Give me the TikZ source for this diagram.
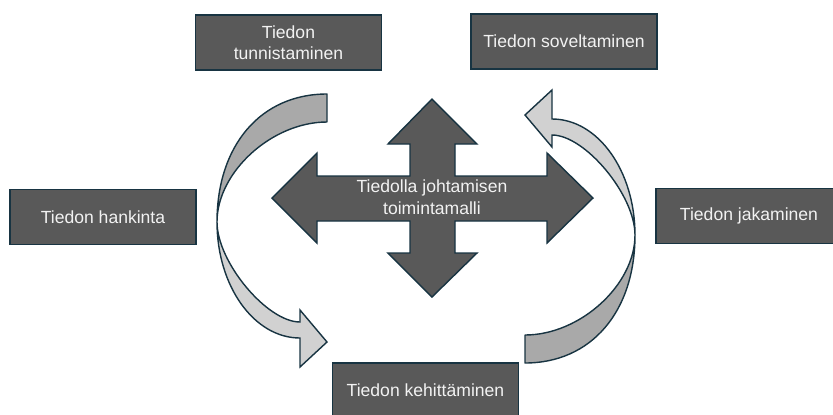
\documentclass[tikz,border=0pt]{standalone}
\usepackage{fontspec}
\setmainfont{Liberation Sans}
\definecolor{boxgray}{RGB}{89,89,89}
\definecolor{edgeblue}{RGB}{24,52,66}
\definecolor{txtwhite}{RGB}{242,242,242}
\definecolor{bandback}{RGB}{169,169,169}
\definecolor{bandfront}{RGB}{209,209,209}

\begin{document}
\begin{tikzpicture}[x=0.02cm, y=-0.02cm,
    infobox/.style={draw=edgeblue, fill=boxgray, line width=0.8pt, text=txtwhite,
      minimum width=3.72cm, minimum height=1.1cm, inner sep=0pt, align=center,
      font=\fontsize{10pt}{12pt}\selectfont},
    crossarrow/.style={draw=edgeblue, fill=boxgray, line width=0.8pt, line join=miter},
    backband/.style={draw=edgeblue, fill=bandback, line width=0.8pt, line join=round},
    frontband/.style={draw=edgeblue, fill=bandfront, line width=0.8pt, line join=miter}]
  \useasboundingbox (0,0) rectangle (833,414);
  \clip (0,0) rectangle (833,414);

  % the model in the middle
  \draw[crossarrow] (432,99) -- (477,144) -- (455,144) -- (455,176) -- (547,176)
    -- (547,153) -- (593,198) -- (547,243) -- (547,221) -- (455,221) -- (455,253)
    -- (477,253) -- (432,297) -- (388,253) -- (410,253) -- (410,221) -- (317,221)
    -- (317,243) -- (272,198) -- (317,153) -- (317,176) -- (410,176) -- (410,144)
    -- (388,144) -- cycle;
  \node[text=txtwhite, align=center, font=\fontsize{10pt}{12.5pt}\selectfont] (malli) at (432,197)
    {Tiedolla johtamisen\\toimintamalli};

  % curved arrow on the left, and the same one turned round on the right
  \foreach \turn in {0,180} {
    \begin{scope}[rotate around={\turn:(426,228.5)}]
      \draw[backband] (327,94) .. controls (261,94) and (217,145) .. (217,222)
        .. controls (217,172) and (272,122) .. (327,122) -- cycle;
      \draw[frontband] (217,222) .. controls (217,286) and (254,338) .. (300,338)
        -- (300,367) -- (327,342) -- (300,310) -- (300,322)
        .. controls (267,322) and (217,262) .. (217,222) -- cycle;
    \end{scope}
  }

  \node[infobox] (tunn) at (288.5,42.5) {Tiedon\\tunnistaminen};
  \node[infobox] (sove) at (564,41.5) {Tiedon soveltaminen};
  \node[infobox] (hank) at (103,217) {Tiedon hankinta};
  \node[infobox] (jaka) at (749,216) {Tiedon jakaminen};
  \node[infobox] (kehi) at (425.5,390.5) {Tiedon kehittäminen};
\end{tikzpicture}
\end{document}
